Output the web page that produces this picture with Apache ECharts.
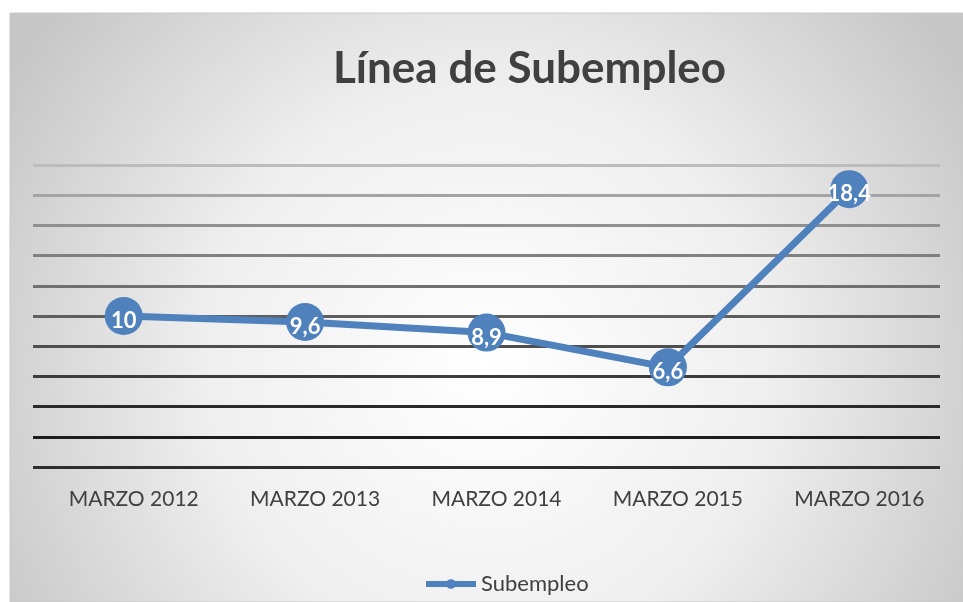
<html>
<head>
    <script src="https://cdn.jsdelivr.net/npm/echarts@6.0.0/dist/echarts.min.js"></script>
    <style>
        body { margin: 0; background: #fff; }
        #chart { width: 963px; height: 602px; }
    </style>
</head>
<body>
    <div id="chart"></div>
    <script>
        const categories = ['MARZO 2012', 'MARZO 2013', 'MARZO 2014', 'MARZO 2015', 'MARZO 2016'];
        const subempleo = [10, 9.6, 8.9, 6.6, 18.4];
        // gridline colours, bottom (0) to top (20)
        const gridColors = ['#2e2e2e', '#1e1e1e', '#2a2a2a', '#3c3c3c', '#4e4e4e', '#5e5e5e', '#707070', '#808080', '#909090', '#a4a4a4', '#bcbcbc'];

        const myChart = echarts.init(document.getElementById('chart'));

        const option = {
            backgroundColor: '#fff',
            graphic: [{
                type: 'rect',
                z: -10,
                silent: true,
                shape: { x: 10, y: 13, width: 953, height: 589 },
                style: {
                    fill: {
                        type: 'radial', x: 0.5, y: 0.6, r: 0.95,
                        colorStops: [
                            { offset: 0, color: '#ffffff' },
                            { offset: 0.5, color: '#efefef' },
                            { offset: 1, color: '#c6c6c6' }
                        ]
                    },
                    stroke: '#c8c8c8',
                    lineWidth: 1
                }
            }],
            title: {
                text: 'Línea de Subempleo',
                left: 328,
                top: 42,
                textStyle: { fontFamily: 'Lato', fontWeight: 'bold', fontSize: 44, color: '#404040' }
            },
            legend: {
                bottom: 2,
                left: 418,
                itemWidth: 50,
                itemHeight: 12,
                itemGap: 2,
                lineStyle: { width: 6 },
                textStyle: { fontFamily: 'Lato', fontSize: 22, color: '#404040' },
                data: ['Subempleo']
            },
            grid: { left: 33, right: 23, top: 165, bottom: 135 },
            xAxis: {
                type: 'category',
                data: categories,
                axisLine: { show: false },
                axisTick: { show: false },
                axisLabel: { margin: 22, padding: [0, 0, 0, 20], fontFamily: 'Lato', fontSize: 21, color: '#404040' }
            },
            yAxis: {
                type: 'value',
                min: 0,
                max: 20,
                interval: 2,
                axisLabel: { show: false },
                axisLine: { show: false },
                axisTick: { show: false },
                splitLine: { lineStyle: { color: gridColors, width: 3 } }
            },
            series: [{
                name: 'Subempleo',
                type: 'line',
                data: subempleo,
                symbol: 'circle',
                symbolSize: 38,
                lineStyle: { width: 7, color: '#4f81bd' },
                itemStyle: { color: '#4f81bd' },
                label: {
                    show: true,
                    position: 'inside',
                    offset: [0, 5],
                    color: '#fff',
                    fontFamily: 'Lato',
                    fontWeight: 'bold',
                    fontSize: 22,
                    formatter: (p) => String(p.value).replace('.', ',')
                }
            }]
        };

        myChart.setOption(option);
    </script>
</body>
</html>
